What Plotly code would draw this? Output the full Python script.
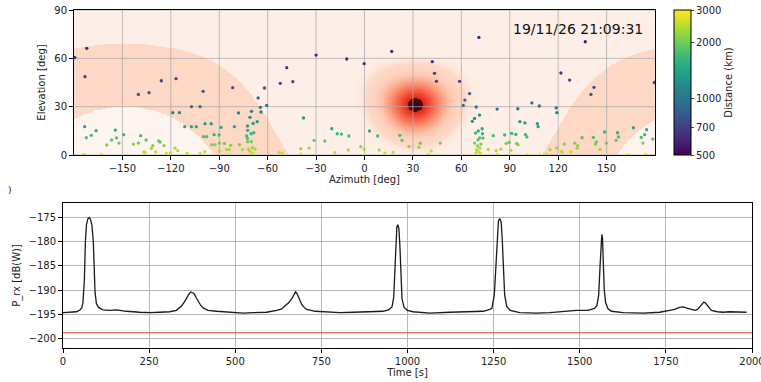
import numpy as np
import plotly.graph_objects as go

# ---------------- data ----------------
# satellites: azimuth [deg], elevation [deg], slant distance [km]
sat_az = [-179.5, -172.1, -173.2, -125.9, -116.8, -140.1, -133.5, -100.0, -107.2, -101.9,
          -118.8, -114.7, -173.4, -166.3, -172.4, -169.3, -154.4, -153.6, -156.7, -152.1,
          -159.7, -149.2, -138.7, -135.3, -143.2, -140.1, -131.2, -127.5, -126.6, -124.2,
          -132.0, -129.4, -136.8, -136.0, -122.8, -120.3, -117.4, -115.7, -109.9, -101.9,
          -99.0, -174.0, -163.0, -111.4, -107.2, -104.2, -98.8, -95.0, -99.8, -97.8,
          -93.2, -90.1, -94.7, -92.7, -89.9, -88.9, -89.9,
          -30.0, -11.0, -0.2, -48.2, -44.4, -52.2, -62.0, -81.7, -65.9, -60.6,
          -64.5, -64.1, -70.0, -78.1, -71.0, -69.0, -66.5, -72.5, -80.6, -72.4,
          -70.3, -68.6, -73.0, -72.5, -86.8, -82.9, -77.5, -72.4, -70.1, -69.4,
          -71.9, -67.8, -71.3, -69.9, -69.0, -75.6, -85.5, -83.7, -37.8, -20.3,
          -16.9, -14.3, -9.7, -31.2, -24.6, -34.3, -39.5, -39.5, -52.9, -51.0,
          -18.4, -10.1, -2.3, -0.2,
          16.9, 70.9, 42.0, 43.4, 44.6, 58.9, 65.1, 62.2, 61.2, 69.2,
          82.2, 71.3, 68.2, 66.8, 72.9, 70.5, 68.8, 73.1, 71.3, 73.4,
          70.3, 68.2, 72.1, 70.0, 71.5, 69.4, 70.7, 69.0, 71.9, 79.8,
          86.8, 91.2, 89.7, 87.8, 84.5, 81.6, 76.7, 82.2, 90.7, 3.1,
          8.1, 21.9, 23.3, 27.5, 33.7, 34.5, 46.9, 41.3, 39.4, 17.8,
          12.6, 9.1,
          136.8, 121.7, 127.1, 142.2, 140.3, 179.6, 103.7, 108.3, 95.0, 118.8,
          119.2, 96.3, 99.4, 107.1, 107.6, 93.8, 99.8, 100.6, 166.6, 174.8,
          173.6, 171.5, 178.6, 172.5, 156.8, 157.4, 155.9, 148.8, 149.9, 141.8,
          143.7, 143.1, 134.8, 130.3, 132.1, 131.7, 123.8, 119.0, 114.9, 112.6,
          122.0, 122.6, 127.9, 145.9, 94.3, 95.1, 100.9, 108.6, 163.0, 174.2]
sat_el = [60.5, 66.2, 48.6, 46.1, 47.4, 37.6, 38.7, 39.5, 30.0, 30.0,
          26.3, 26.3, 17.6, 15.1, 10.7, 12.2, 15.5, 10.6, 9.3, 7.4,
          6.2, 12.6, 12.0, 9.3, 6.8, 7.4, 5.8, 8.7, 8.0, 5.8,
          4.1, 2.0, 1.9, 1.6, 1.0, 1.2, 4.3, 2.7, 1.0, 1.0,
          1.9, 0.4, 0.2, 17.6, 17.6, 17.6, 19.4, 19.4, 11.4, 11.4,
          12.6, 12.4, 6.4, 6.4, 7.4, 17.1, 2.5,
          62.0, 59.6, 56.7, 54.2, 45.5, 44.5, 41.6, 41.8, 35.4, 30.8,
          29.6, 26.7, 27.1, 26.1, 23.4, 19.6, 20.7, 18.0, 17.6, 15.3,
          13.2, 13.8, 11.8, 10.3, 7.2, 6.0, 6.4, 8.3, 8.3, 4.5,
          3.7, 3.7, 2.5, 1.5, 0.9, 3.3, 3.3, 3.3, 23.0, 16.3,
          13.2, 13.0, 11.8, 9.1, 8.7, 4.3, 3.9, 0.6, 1.4, 1.1,
          1.4, 3.1, 5.2, 3.7,
          64.3, 73.0, 57.9, 50.7, 45.7, 45.7, 38.1, 34.1, 30.8, 29.8,
          28.5, 24.8, 22.7, 20.9, 16.3, 14.9, 13.6, 13.2, 10.6, 10.5,
          9.4, 7.4, 6.8, 5.6, 4.3, 3.1, 2.0, 1.2, 1.0, 12.0,
          12.4, 13.4, 7.8, 7.2, 3.7, 2.7, 3.5, 0.4, 2.9, 14.9,
          11.8, 12.2, 9.1, 5.2, 4.8, 7.3, 7.4, 2.5, 0.4, 1.6,
          1.2, 3.1,
          70.3, 50.9, 46.5, 42.0, 37.6, 45.0, 32.3, 30.4, 28.7, 29.2,
          26.3, 20.7, 19.9, 19.4, 17.6, 12.8, 12.6, 11.2, 16.9, 15.7,
          12.6, 11.0, 9.9, 7.4, 13.8, 11.2, 9.1, 14.3, 7.4, 10.9,
          8.2, 6.8, 10.7, 7.4, 5.8, 4.2, 6.8, 4.3, 3.3, 0.6,
          2.3, 1.7, 2.0, 3.5, 7.2, 6.4, 0.1, 0.1, 0.1, 0.3]
sat_dist_km = [640, 600, 700, 740, 730, 830, 820, 810, 990, 990,
               1080, 1080, 1420, 1520, 1780, 1700, 1500, 1800, 1880, 2000,
               2100, 1680, 1720, 1880, 2050, 2000, 2150, 1920, 1970, 2150,
               2300, 2500, 2500, 2520, 2600, 2580, 2280, 2430, 2600, 2600,
               2500, 2650, 2680, 1420, 1420, 1420, 1330, 1330, 1750, 1750,
               1680, 1690, 2100, 2100, 2000, 1450, 2450,
               620, 630, 650, 660, 740, 750, 780, 780, 880, 960,
               990, 1060, 1050, 1080, 1170, 1320, 1270, 1400, 1420, 1510,
               1620, 1590, 1720, 1800, 2020, 2120, 2090, 1950, 1950, 2260,
               2330, 2330, 2450, 2540, 2600, 2370, 2370, 2370, 1190, 1470,
               1620, 1630, 1720, 1890, 1920, 2280, 2310, 2630, 2550, 2580,
               2550, 2390, 2200, 2330,
               610, 580, 640, 690, 740, 740, 840, 900, 960, 980,
               1000, 1120, 1200, 1260, 1470, 1530, 1600, 1620, 1780, 1790,
               1860, 2000, 2050, 2150, 2280, 2400, 2500, 2570, 2600, 1710,
               1690, 1620, 1970, 2020, 2330, 2430, 2350, 2650, 2410, 1530,
               1720, 1700, 1890, 2200, 2240, 2010, 2000, 2450, 2650, 2530,
               2570, 2390,
               590, 690, 730, 790, 850, 750, 940, 970, 1000, 990,
               1070, 1270, 1310, 1330, 1420, 1650, 1670, 1750, 1440, 1500,
               1670, 1760, 1830, 2000, 1590, 1750, 1890, 1560, 2000, 1770,
               1960, 2050, 1780, 2000, 2150, 2290, 2050, 2280, 2370, 2630,
               2470, 2520, 2500, 2350, 2020, 2090, 2690, 2690, 2690, 2660]

# antenna pointing / pattern parameters (sky background)
beam_az, beam_el = 31.5, 31.0
beam_width_deg = 12.0
band_inner_deg, band_outer_deg = 80.0, 119.0

# received power time series
time_s = [0, 20, 39, 50, 55, 58, 62, 65, 68, 72, 76, 80, 84, 88, 91, 93, 97, 103, 116, 136,
          155, 184, 223, 252, 281, 310, 329, 344, 352, 359, 366, 371, 376, 380, 386, 392, 400,
          407, 421, 446, 475, 504, 523, 552, 591, 620, 635, 644, 656, 664, 670, 675, 679, 683,
          688, 693, 700, 707, 732, 766, 804, 843, 882, 929, 945, 951, 955, 960, 963, 966, 969,
          972, 975, 978, 981, 984, 990, 1000, 1016, 1065, 1123, 1181, 1220, 1239, 1245, 1252,
          1256, 1260, 1264, 1268, 1272, 1275, 1278, 1282, 1288, 1298, 1326, 1374, 1413, 1452,
          1491, 1524, 1543, 1550, 1555, 1559, 1562, 1564, 1566, 1568, 1571, 1575, 1582, 1592,
          1626, 1684, 1732, 1761, 1775, 1790, 1800, 1809, 1822, 1834, 1842, 1848, 1855, 1860,
          1865, 1870, 1876, 1882, 1900, 1916, 1935, 1955, 1970, 1984]
p_rx_dbw = [-194.7, -194.6, -194.5, -194.1, -193.6, -192.5, -188.0, -180.0, -176.5, -175.3,
            -175.0, -175.4, -176.6, -180.0, -186.0, -190.5, -192.8, -193.6, -194.1, -194.2,
            -194.1, -194.4, -194.6, -194.7, -194.6, -194.5, -194.2, -193.3, -192.5, -191.6,
            -190.8, -190.4, -190.5, -190.7, -191.5, -192.3, -193.2, -193.7, -194.2, -194.4,
            -194.6, -194.7, -194.8, -194.7, -194.6, -194.2, -193.9, -193.3, -192.6, -191.8,
            -190.9, -190.4, -190.7, -191.4, -192.3, -193.0, -193.6, -194.0, -194.4, -194.6,
            -194.7, -194.6, -194.5, -194.4, -194.1, -193.8, -193.5, -191.5, -186.0, -179.5,
            -177.0, -176.5, -177.3, -181.0, -187.5, -191.8, -193.6, -194.2, -194.5, -194.8,
            -194.6, -194.5, -194.4, -194.0, -193.8, -191.0, -185.0, -178.5, -175.7, -175.2,
            -176.0, -179.5, -185.5, -191.0, -193.4, -194.2, -194.7, -194.8, -194.7, -194.5,
            -194.2, -194.2, -193.8, -193.2, -191.0, -185.0, -179.5, -178.5, -179.3, -184.0,
            -189.8, -192.6, -193.9, -194.4, -194.7, -194.8, -194.6, -194.2, -194.0, -193.6,
            -193.5, -193.7, -194.0, -194.2, -194.0, -193.5, -192.9, -192.5, -192.7, -193.1,
            -193.7, -194.2, -194.5, -194.6, -194.5, -194.5, -194.6, -194.6]
noise_floor_dbw = -198.8

date_text = "19/11/26 21:09:31"
az_ticks = [-150, -120, -90, -60, -30, 0, 30, 60, 90, 120, 150]
el_ticks = [0, 30, 60, 90]
dist_ticks = [500, 700, 1000, 2000, 3000]
time_ticks = [0, 250, 500, 750, 1000, 1250, 1500, 1750, 2000]
p_ticks = [-175, -180, -185, -190, -195, -200]

# ---------------- sky background field ----------------
az_grid = np.arange(-180, 180.01, 0.5)
el_grid = np.arange(0, 90.01, 0.5)
A, E = np.meshgrid(np.radians(az_grid), np.radians(el_grid))
a0, e0 = np.radians(beam_az), np.radians(beam_el)
cosd = np.sin(e0) * np.sin(E) + np.cos(e0) * np.cos(E) * np.cos(A - a0)
dang = np.degrees(np.arccos(np.clip(cosd, -1, 1)))
bg = np.where(dang > band_outer_deg, 0.0, np.where(dang > band_inner_deg, 0.02, 0.01))
beam = 0.01 + 0.99 * np.exp(-(dang / beam_width_deg) ** 2)
zfield = np.where(dang < 60, beam, bg)

sky_scale = [
    [0.0, '#fef4ef'], [0.01, '#fdefe7'], [0.02, '#fdd8c5'], [0.07, '#fdcdb8'],
    [0.2, '#fcaa8c'], [0.37, '#fb8465'], [0.64, '#f5533b'], [0.78, '#ec3a25'],
    [0.885, '#dd2a1d'], [0.893, '#5a0808'], [1.0, '#3a0303'],
]

FONT = dict(family='DejaVu Sans', size=10, color='#222')
W, H = 761, 382

fig = go.Figure()
fig.add_trace(go.Heatmap(x=az_grid, y=el_grid, z=zfield, colorscale=sky_scale,
                         zmin=0, zmax=1, showscale=False, hoverinfo='skip',
                         xaxis='x', yaxis='y'))

# grid lines above the background
gx, gy = [], []
for t in az_ticks:
    gx += [t, t, None]
    gy += [0, 90, None]
for t in el_ticks:
    gx += [-180, 180, None]
    gy += [t, t, None]
fig.add_trace(go.Scatter(x=gx, y=gy, mode='lines', line=dict(color='rgba(170,170,170,0.75)', width=1),
                         hoverinfo='skip', showlegend=False, xaxis='x', yaxis='y'))

logd = np.log10(sat_dist_km)
fig.add_trace(go.Scatter(
    x=sat_az, y=sat_el, mode='markers', xaxis='x', yaxis='y', showlegend=False,
    marker=dict(size=3.3, color=logd, colorscale='Viridis',
                cmin=np.log10(500), cmax=np.log10(3000), line=dict(width=0),
                colorbar=dict(x=674 / W, xanchor='left', y=1 - 10 / H, yanchor='top',
                              len=145 / H, lenmode='fraction', thickness=17,
                              outlinecolor='black', outlinewidth=1, xpad=0, ypad=0,
                              tickvals=list(np.log10(dist_ticks)),
                              ticktext=[str(v) for v in dist_ticks],
                              ticks='outside', ticklen=3, tickfont=FONT,
                              title=dict(text='Distance (km)', side='right', font=FONT)))))

fig.add_trace(go.Scatter(x=time_s, y=p_rx_dbw, mode='lines', line=dict(color='#1a1a1a', width=1.3),
                         showlegend=False, xaxis='x2', yaxis='y2'))
fig.add_trace(go.Scatter(x=[0, 2000], y=[noise_floor_dbw, noise_floor_dbw], mode='lines',
                         line=dict(color='#f07060', width=1.2), showlegend=False,
                         xaxis='x2', yaxis='y2'))

axcommon = dict(showline=True, linecolor='black', linewidth=1, mirror=True,
                ticks='outside', ticklen=4, tickcolor='black', tickfont=FONT,
                zeroline=False, layer='above traces', automargin=False,
                ticklabeloverflow='allow')

fig.update_layout(
    width=W, height=H, margin=dict(l=0, r=0, t=0, b=0, autoexpand=False),
    paper_bgcolor='white', plot_bgcolor='white', font=FONT,
    xaxis=dict(domain=[74 / W, 655 / W], range=[-180, 180], tickvals=az_ticks,
               showgrid=False, title=dict(text='Azimuth [deg]', font=FONT, standoff=2),
               anchor='y', **axcommon),
    yaxis=dict(domain=[1 - 155 / H, 1 - 10 / H], range=[0, 90], tickvals=el_ticks,
               showgrid=False, title=dict(text='Elevation [deg]', font=FONT, standoff=6),
               anchor='x', **axcommon),
    xaxis2=dict(domain=[63 / W, 752 / W], range=[0, 2000], tickvals=time_ticks,
                showgrid=True, gridcolor='#b8b8b8', gridwidth=1,
                title=dict(text='Time [s]', font=FONT, standoff=2), anchor='y2', **axcommon),
    yaxis2=dict(domain=[1 - 348 / H, 1 - 203 / H], range=[-202, -172], tickvals=p_ticks,
                showgrid=True, gridcolor='#b8b8b8', gridwidth=1,
                title=dict(text='P_rx [dB(W)]', font=FONT, standoff=6), anchor='x2', **axcommon),
    annotations=[
        dict(text=date_text, xref='paper', yref='paper', x=645 / W, y=1 - 29 / H,
             xanchor='right', yanchor='middle', showarrow=False,
             font=dict(family='DejaVu Sans', size=14, color='#111')),
        dict(text=')', xref='paper', yref='paper', x=6 / W, y=1 - 190 / H,
             xanchor='left', yanchor='middle', showarrow=False,
             font=dict(family='DejaVu Sans', size=9, color='#222')),
    ],
)

fig.write_html('out.html', config={'displayModeBar': False},
               post_script="document.body.style.margin='0';document.body.style.overflow='hidden';")
